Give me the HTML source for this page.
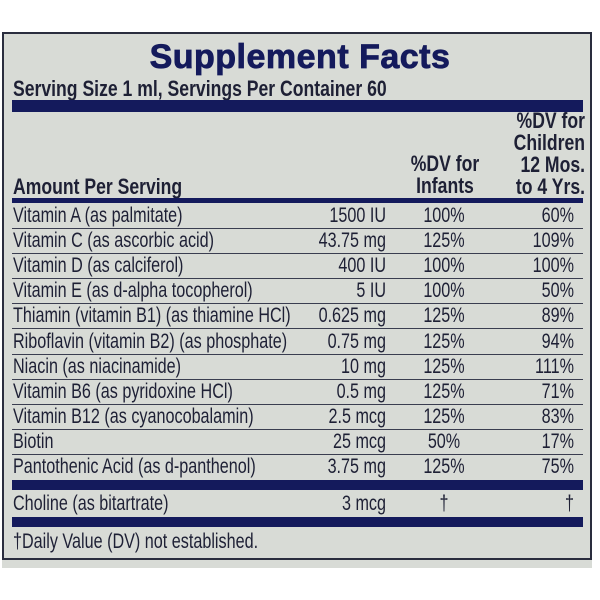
<!DOCTYPE html>
<html><head><meta charset="utf-8">
<style>
body{margin:0;width:600px;height:600px;background:#fff;position:relative;overflow:hidden;font-family:"Liberation Sans",sans-serif;color:#1e2035}
#lab{position:absolute;left:2px;top:32px;width:590px;height:536px;background:#d8dbd6;}
#lab .b{position:absolute;left:0;top:0;width:586px;height:524px;border:2px solid #2a2d3e}
.t{position:absolute;white-space:nowrap;font-size:21px;line-height:22px;transform:scaleX(.77);transform-origin:left center}
.bar{position:absolute;left:12px;width:571px;background:#141a5c}
.ln{position:absolute;left:12px;width:571px;height:1px;background:#3a3d50}
.r{text-align:right;transform-origin:right center}
.c{text-align:center;transform-origin:center center}
.h{font-weight:bold;font-size:22px;transform:scaleX(.8)}
</style></head><body>
<div id="lab"><div class="b"></div></div>
<div style="position:absolute;left:0;width:600px;top:38px;text-align:center;font-weight:900;font-size:34px;line-height:38px;color:#141a5c;letter-spacing:0.5px;-webkit-text-stroke:0.8px #141a5c">Supplement Facts</div>
<div class="t h" style="left:13px;top:78px">Serving Size 1 ml, Servings Per Container 60</div>
<div class="bar" style="top:100px;height:12px"></div>
<div class="t h r" style="left:465px;top:110px;width:120px;line-height:22px">%DV for<br>Children<br>12 Mos.<br>to 4 Yrs.</div>
<div class="t h c" style="left:395px;top:153px;width:100px;line-height:22px">%DV for<br>Infants</div>
<div class="t h" style="left:13px;top:176px">Amount Per Serving</div>
<div class="bar" style="top:198px;height:5px"></div>
<div id="rows"></div>
<div class="bar" style="top:480px;height:10px"></div>
<div class="bar" style="top:517px;height:10px"></div>
<div class="t" style="left:13px;top:531px">†Daily Value (DV) not established.</div>
<script>
var d=[["Vitamin A (as palmitate)","1500 IU","100%","60%"],["Vitamin C (as ascorbic acid)","43.75 mg","125%","109%"],["Vitamin D (as calciferol)","400 IU","100%","100%"],["Vitamin E (as d-alpha tocopherol)","5 IU","100%","50%"],["Thiamin (vitamin B1) (as thiamine HCl)","0.625 mg","125%","89%"],["Riboflavin (vitamin B2) (as phosphate)","0.75 mg","125%","94%"],["Niacin (as niacinamide)","10 mg","125%","111%"],["Vitamin B6 (as pyridoxine HCl)","0.5 mg","125%","71%"],["Vitamin B12 (as cyanocobalamin)","2.5 mcg","125%","83%"],["Biotin","25 mcg","50%","17%"],["Pantothenic Acid (as d-panthenol)","3.75 mg","125%","75%"],["Choline (as bitartrate)","3 mcg","†","†"]];
var h="";
for(var i=0;i<d.length;i++){
 var y=i<11?203+i*25.1:492;
 var ty=y+2;
 if(i==11)ty=493;
 h+='<div class="t" style="left:13px;top:'+ty+'px">'+d[i][0]+'</div>';
 h+='<div class="t r" style="left:280px;width:106px;top:'+ty+'px">'+d[i][1]+'</div>';
 h+='<div class="t c" style="left:404px;width:80px;top:'+ty+'px">'+d[i][2]+'</div>';
 h+='<div class="t r" style="left:490px;width:84px;top:'+ty+'px">'+d[i][3]+'</div>';
 if(i<10)h+='<div class="ln" style="top:'+Math.round(y+25)+'px"></div>';
}
document.getElementById("rows").innerHTML=h;
</script>
</body></html>
